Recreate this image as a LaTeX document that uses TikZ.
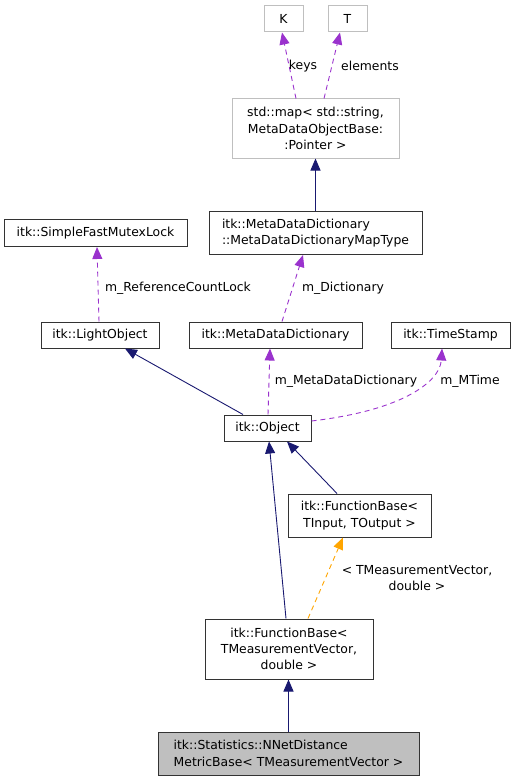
\documentclass[tikz,border=0pt]{standalone}
\usepackage{fontspec}
\setmainfont{DejaVu Sans}
\usetikzlibrary{arrows.meta}
\usetikzlibrary{calc}

\definecolor{inheritcol}{HTML}{191970}
\definecolor{usecol}{HTML}{9A32CD}
\definecolor{tmplcol}{HTML}{FFA500}
\definecolor{boxgray}{HTML}{BFBFBF}

\begin{document}
\begin{tikzpicture}[
	x=1pt,
	y=-1pt,
	every node/.style={font=\fontsize{12.4}{16.3}\selectfont, inner sep=0pt, anchor=center},
	cls/.style={draw=black!80, line width=1pt, align=center},
	ext/.style={draw=boxgray, line width=1pt, align=center},
	inherit/.style={-{Triangle[length=12pt,width=10pt]}, draw=inheritcol, line width=0.9pt},
	uses/.style={-{Triangle[length=12pt,width=10pt]}, draw=usecol, line width=0.9pt, dash pattern=on 5pt off 4pt},
	tmpl/.style={-{Triangle[length=12pt,width=10pt]}, draw=tmplcol, line width=0.9pt, dash pattern=on 5pt off 4pt},
]
\useasboundingbox (0,0) rectangle (515,781);

% Classes
\node[ext, minimum width=39pt, minimum height=26pt](K) at (283.5,19) {K};
\node[ext, minimum width=39pt, minimum height=26pt](T) at (347.5,19) {T};
\node[ext, minimum width=167pt, minimum height=59pt](map) at (315.5,128.5) {std::map< std::string,\\ MetaDataObjectBase:\\:Pointer >};
\node[cls, align=left, minimum width=213pt, minimum height=43pt](mapType) at (315.5,233) {itk::MetaDataDictionary\\::MetaDataDictionaryMapType};
\node[cls, minimum width=183pt, minimum height=27pt](mutex) at (95.5,233) {itk::SimpleFastMutexLock};
\node[cls, minimum width=118pt, minimum height=26pt](light) at (100,335) {itk::LightObject};
\node[cls, minimum width=173pt, minimum height=26pt](dict) at (275.5,335) {itk::MetaDataDictionary};
\node[cls, minimum width=119pt, minimum height=26pt](stamp) at (450.5,335) {itk::TimeStamp};
\node[cls, minimum width=87pt, minimum height=26pt](object) at (267.5,428) {itk::Object};
\node[cls, minimum width=143pt, minimum height=43pt](fbInput) at (359.5,515.5) {itk::FunctionBase<\\ TInput, TOutput >};
\node[cls, minimum width=168pt, minimum height=60pt](fbMeasure) at (289,649) {itk::FunctionBase<\\ TMeasurementVector,\\double >};
\node[cls, fill=boxgray, align=left, minimum width=261pt, minimum height=43pt](nnet) at (288.5,753.5) {itk::Statistics::NNetDistance\\MetricBase< TMeasurementVector >};

% Inheritance
\draw[inherit] (mapType.north) -- (map.south);
\draw[inherit] ([xshift=-24.5pt]object.north) -- ([xshift=25pt]light.south);
\draw[inherit] ([xshift=-3pt]fbMeasure.north) -- ([xshift=1.5pt]object.south);
\draw[inherit] ([xshift=-22.5pt]fbInput.north) -- ([xshift=19.5pt]object.south);
\draw[inherit] (nnet.north) -- (nnet.north |- fbMeasure.south);

% Members
\draw[uses] ([xshift=-19.5pt]map.north) -- ([xshift=-1.5pt]K.south);
\draw[uses] ([xshift=8.5pt]map.north) -- ([xshift=-7.5pt]T.south);
\draw[uses] ([xshift=6.5pt]dict.north) -- ([xshift=-12.5pt]mapType.south);
\draw[uses] ([xshift=-1pt]light.north) -- ([xshift=1.5pt]mutex.south);
\draw[uses] ([xshift=0.5pt]object.north) -- ([xshift=-5.5pt]dict.south);
\draw[uses] ([yshift=7pt]object.east) .. controls +(94,-11) and +(-2,32) .. ([xshift=-8.5pt]stamp.south);

% Template
\draw[tmpl] ([xshift=19pt]fbMeasure.north) -- ([xshift=-16.5pt]fbInput.south);

% Labels
\node(lKeys) at (303,66) {keys};
\node(lElements) at (370,66) {elements};
\node(lDict) at (343,288) {m\_Dictionary};
\node(lLock) at (178,288) {m\_ReferenceCountLock};
\node(lMeta) at (346,381) {m\_MetaDataDictionary};
\node(lTime) at (470,381) {m\_MTime};
\node[align=center](lTmpl) at (417,578) {< TMeasurementVector,\\double >};
\end{tikzpicture}
\end{document}
